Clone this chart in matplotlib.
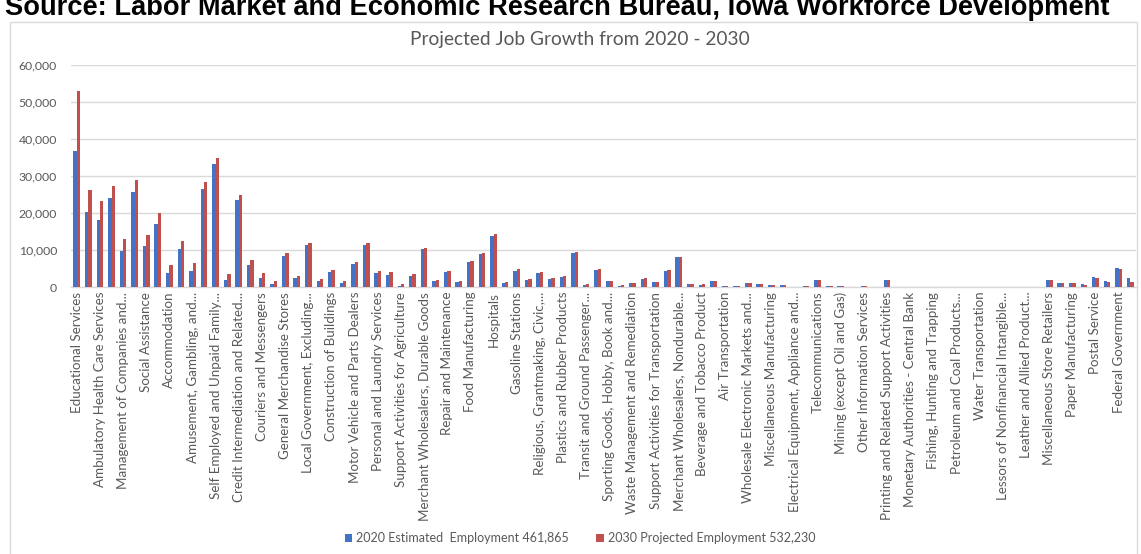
import matplotlib
matplotlib.use("Agg")
import matplotlib.pyplot as plt
from matplotlib.patches import Rectangle
from matplotlib.ticker import FuncFormatter, MultipleLocator
import numpy as np

# Industries shown on the axis (every other category is labelled)
labeled_industries = [
    "Educational Services", "Ambulatory Health Care Services",
    "Management of Companies and...", "Social Assistance", "Accommodation",
    "Amusement, Gambling, and...", "Self Employed and Unpaid Family...",
    "Credit Intermediation and Related...", "Couriers and Messengers",
    "General Merchandise Stores", "Local Government, Excluding...",
    "Construction of Buildings", "Motor Vehicle and Parts Dealers",
    "Personal and Laundry Services", "Support Activities for Agriculture",
    "Merchant Wholesalers, Durable Goods", "Repair and Maintenance",
    "Food Manufacturing", "Hospitals", "Gasoline Stations",
    "Religious, Grantmaking, Civic,...", "Plastics and Rubber Products",
    "Transit and Ground Passenger...", "Sporting Goods, Hobby, Book and...",
    "Waste Management and Remediation", "Support Activities for Transportation",
    "Merchant Wholesalers, Nondurable...", "Beverage and Tobacco Product",
    "Air Transportation", "Wholesale Electronic Markets and...",
    "Miscellaneous Manufacturing", "Electrical Equipment, Appliance and...",
    "Telecommunications", "Mining (except Oil and Gas)",
    "Other Information Services", "Printing and Related Support Activities",
    "Monetary Authorities - Central Bank", "Fishing, Hunting and Trapping",
    "Petroleum and Coal Products...", "Water Transportation",
    "Lessors of Nonfinancial Intangible...", "Leather and Allied Product...",
    "Miscellaneous Store Retailers", "Paper Manufacturing", "Postal Service",
    "Federal Government",
]

# Employment by industry, 2020 estimate
employment_2020 = [
    36700, 20400, 18100, 24100, 9700, 25800, 11200, 17000, 3800, 10400,
    4300, 26600, 33200, 1900, 23400, 5900, 2300, 900, 8400, 2300,
    11400, 1500, 4100, 1100, 6100, 11400, 3700, 3200, 200, 3000,
    10300, 1700, 4100, 1300, 6700, 8800, 13700, 1200, 4300, 1800,
    3900, 2200, 2600, 9100, 600, 4600, 1500, 300, 1100, 2200,
    1300, 4200, 8100, 700, 500, 1600, 200, 200, 1100, 700,
    500, 600, 100, 300, 2000, 200, 200, 0, 200, 0,
    2000, 0, 0, 0, 0, 0, 0, 0, 0, 0,
    0, 0, 0, 0, 2000, 1200, 1200, 800, 2600, 1600,
    5200, 2400,
]

# Employment by industry, 2030 projection
employment_2030 = [
    53000, 26200, 23200, 27400, 13000, 29000, 14100, 20000, 5900, 12500,
    6500, 28400, 35000, 3500, 25000, 7300, 3700, 1700, 9100, 2900,
    12000, 2100, 4700, 1700, 6700, 11900, 4300, 4000, 700, 3400,
    10600, 1900, 4300, 1500, 7100, 9100, 14200, 1300, 4800, 2200,
    4100, 2500, 3000, 9500, 700, 4800, 1700, 500, 1100, 2500,
    1400, 4500, 8100, 700, 700, 1600, 200, 200, 1100, 700,
    500, 600, 100, 300, 2000, 200, 200, 0, 200, 0,
    2000, 0, 0, 0, 0, 0, 0, 0, 0, 0,
    0, 0, 0, 0, 2000, 1100, 1200, 500, 2400, 1400,
    4800, 1300,
]

series_names = [
    "2020 Estimated  Employment 461,865",
    "2030 Projected Employment 532,230",
]
series_colors = ["#4472C4", "#C0504D"]

title = "Projected Job Growth from 2020 - 2030"
source_note = ("Source: Labor Market and Economic Research Bureau, "
               "Iowa Workforce Development")

text_gray = "#595959"
grid_gray = "#D9D9D9"
font = ["Lato", "DejaVu Sans"]

W, H = 1141, 554
fig = plt.figure(figsize=(W / 100, H / 100), dpi=100)
fig.patch.set_facecolor("white")

# Plot area in pixel coordinates
left_px, right_px, top_px, bottom_px = 71, 1136, 65, 287
ax = fig.add_axes([left_px / W, 1 - bottom_px / H,
                   (right_px - left_px) / W, (bottom_px - top_px) / H])

n = len(employment_2020)
x = np.arange(n)
bw = 0.29
ax.bar(x - bw / 2, employment_2020, width=bw, color=series_colors[0],
       label=series_names[0], zorder=3)
ax.bar(x + bw / 2, employment_2030, width=bw, color=series_colors[1],
       label=series_names[1], zorder=3)

ax.set_xlim(-0.5, n - 0.5)
ax.set_ylim(0, 60000)
ax.yaxis.set_major_locator(MultipleLocator(10000))
ax.yaxis.set_major_formatter(FuncFormatter(lambda v, p: f"{int(v):,}"))
ax.grid(axis="y", color=grid_gray, linewidth=1.0, zorder=0)
ax.set_axisbelow(True)

for s in ["top", "right", "left"]:
    ax.spines[s].set_visible(False)
ax.spines["bottom"].set_color(grid_gray)
ax.spines["bottom"].set_linewidth(1.0)

ax.set_xticks(np.arange(0, n, 2))
ax.set_xticklabels(labeled_industries, rotation=90, family=font,
                   fontsize=9.6, color=text_gray)
ax.tick_params(axis="x", length=0, pad=3.5)
ax.tick_params(axis="y", length=0, pad=10, labelsize=8.8,
               labelcolor=text_gray)
for lab in ax.get_yticklabels():
    lab.set_family(font)

# Chart title
fig.text(580 / W, 1 - 39 / H, title, ha="center", va="center",
         family=font, fontsize=13.8, color=text_gray)

# Chart frame
frame_left, frame_right, frame_top = 10, 1137, 22
fig.add_artist(Rectangle((frame_left / W, -0.01),
                         (frame_right - frame_left) / W,
                         1 - frame_top / H + 0.01,
                         transform=fig.transFigure, fill=False,
                         edgecolor=grid_gray, linewidth=1.0))

# Source line, partly running off the top edge
fig.text(5 / W, 1 - 15 / H, source_note, ha="left", va="baseline",
         family=["Liberation Sans", "DejaVu Sans"], fontweight="bold",
         fontsize=19.6, color="black")

fig.legend(loc="center", bbox_to_anchor=(580 / W, 1 - 538 / H), ncol=2,
           frameon=False, handlelength=0.6, handleheight=0.6,
           handletextpad=0.3, columnspacing=2.2,
           prop={"family": font, "size": 9.0}, labelcolor=text_gray)

fig.savefig("out.png", dpi=100, facecolor="white")
